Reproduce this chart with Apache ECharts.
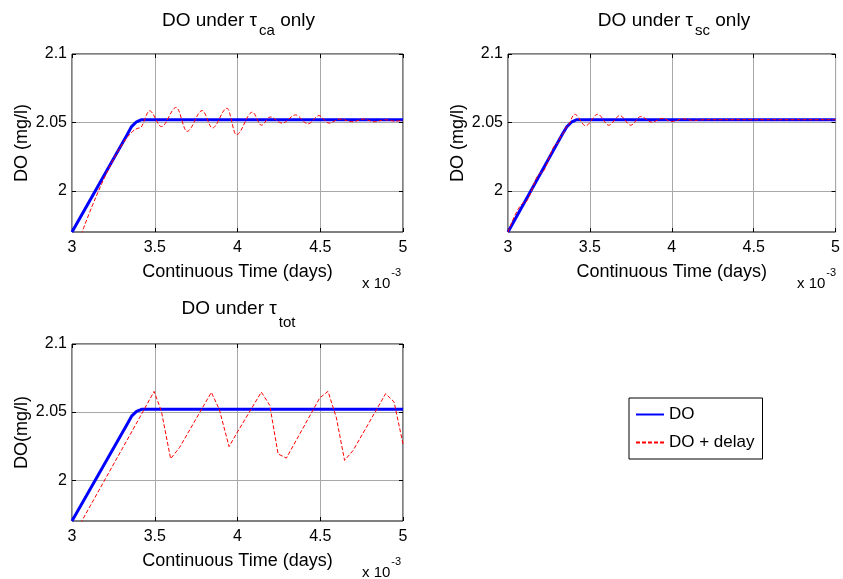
<!DOCTYPE html>
<html>
<head>
<meta charset="utf-8">
<script src="https://cdn.jsdelivr.net/npm/echarts@6/dist/echarts.min.js"></script>
<style>html,body{margin:0;padding:0;background:#fff}#c{width:843px;height:579px}</style>
</head>
<body>
<div id="c"></div>
<script>
// ---- data (time in units of 1e-3 days, DO in mg/l) ----
const xTickValues = [3, 3.5, 4, 4.5, 5];
const yTickValues = [2, 2.05, 2.1];

// DO without delay (panels 1 and 3)
const tDO = [3.0, 3.328, 3.36, 3.39, 3.42, 5.0];
const vDO = [1.970, 2.040, 2.047, 2.0505, 2.052, 2.052];

// DO + delay, tau_ca only
const tCa = [3.055, 3.41, 3.469, 3.54, 3.63, 3.695, 3.787, 3.848, 3.937, 3.993, 4.09, 4.144, 4.198, 4.27, 4.351, 4.426, 4.492, 4.553, 4.617, 4.698, 4.758, 4.829, 4.889, 4.95, 5.0];
const vCa = [1.968, 2.046, 2.0585, 2.047, 2.061, 2.0435, 2.0587, 2.046, 2.0604, 2.041, 2.0575, 2.048, 2.054, 2.0495, 2.0555, 2.049, 2.055, 2.0495, 2.0525, 2.0505, 2.0525, 2.0505, 2.052, 2.051, 2.0515];

// DO without delay (panel 2)
const tDOsc = [3.0, 3.33, 3.36, 3.39, 3.42, 5.0];
const vDOsc = [1.970, 2.041, 2.047, 2.0505, 2.052, 2.052];

// DO + delay, tau_sc only
const tSc = [3.0, 3.1, 3.2, 3.3, 3.33, 3.36, 3.407, 3.474, 3.548, 3.615, 3.683, 3.75, 3.81, 3.88, 3.94, 4.0, 4.07, 4.13, 4.2, 4.5, 5.0];
const vSc = [1.970, 1.9915, 2.013, 2.0345, 2.041, 2.047, 2.056, 2.0476, 2.056, 2.048, 2.055, 2.048, 2.0543, 2.0502, 2.053, 2.0507, 2.0526, 2.0515, 2.052, 2.052, 2.052];

// DO + delay, tau_tot
const tTot = [3.05, 3.409, 3.496, 3.54, 3.596, 3.65, 3.842, 3.89, 3.949, 3.993, 4.144, 4.195, 4.245, 4.295, 4.497, 4.547, 4.597, 4.647, 4.698, 4.895, 4.946, 5.0];
const vTot = [1.968, 2.046, 2.0652, 2.0507, 2.0157, 2.024, 2.0645, 2.052, 2.0246, 2.034, 2.0647, 2.055, 2.0193, 2.0162, 2.0604, 2.0652, 2.046, 2.0145, 2.0217, 2.0635, 2.0575, 2.0266];

const titles = [
  {main: 'DO under τ', sub: 'ca', rest: ' only', ylab: 'DO (mg/l)'},
  {main: 'DO under τ', sub: 'sc', rest: ' only', ylab: 'DO (mg/l)'},
  {main: 'DO under τ', sub: 'tot', rest: '', ylab: 'DO(mg/l)'}
];

function zip(t, v) { return t.map((x, i) => [x, v[i]]); }

// ---- layout ----
const FONT = 'Liberation Sans, Arial, sans-serif';
const grids = [
  {left: 72, top: 54, width: 331, height: 178},
  {left: 508, top: 54, width: 330, height: 178},
  {left: 72, top: 344, width: 331, height: 177}
];

const option = {
  backgroundColor: '#fff',
  animation: false,
  textStyle: {fontFamily: FONT},
  grid: grids.map(g => Object.assign({show: true, borderColor: '#000', borderWidth: 1, backgroundColor: '#fff'}, g)),
  title: titles.map((t, i) => ({
    text: '{a|' + t.main + '}{s|' + t.sub + '}' + (t.rest ? '{a|' + t.rest + '}' : ''),
    left: grids[i].left + grids[i].width / 2 + 1,
    textAlign: 'center',
    top: i === 2 ? 287 : 3,
    padding: 0,
    textStyle: {
      fontWeight: 'normal',
      rich: {
        a: {fontSize: 19, color: '#000', fontFamily: FONT, fontWeight: 'normal'},
        s: {fontSize: 15, color: '#000', fontFamily: FONT, fontWeight: 'normal', padding: [i === 2 ? 28 : 20, 0, 0, 2]}
      }
    }
  })),
  legend: {
    data: ['DO', 'DO + delay'],
    orient: 'vertical',
    left: 629, top: 398,
    padding: [8, 8, 8, 6],
    itemGap: 11,
    itemWidth: 28, itemHeight: 14,
    borderColor: '#000', borderWidth: 1, borderRadius: 0,
    backgroundColor: '#fff',
    itemStyle: {opacity: 0, color: 'rgba(0,0,0,0)', borderColor: 'rgba(0,0,0,0)', borderWidth: 0},
    textStyle: {fontSize: 17, color: '#000', fontFamily: FONT}
  },
  xAxis: [],
  yAxis: [],
  series: [],
  graphic: []
};

grids.forEach((g, i) => {
  const common = {
    type: 'value', gridIndex: i, min: 3, max: 5, interval: 0.5
  };
  option.xAxis.push(Object.assign({}, common, {
    position: 'bottom',
    axisLine: {show: false},
    axisTick: {show: true, inside: true, length: 4, lineStyle: {color: '#000'}},
    axisLabel: {show: true, color: '#000', fontSize: 16, margin: 8, fontFamily: FONT,
      formatter: v => xTickValues.indexOf(v) >= 0 ? String(v) : ''},
    splitLine: {show: true, lineStyle: {color: '#a8a8a8', width: 1}},
    name: 'Continuous Time (days)', nameLocation: 'middle', nameGap: 31,
    nameTextStyle: {fontSize: 18, color: '#000', fontFamily: FONT}
  }));
  option.xAxis.push(Object.assign({}, common, {
    position: 'top',
    axisLine: {show: false},
    axisTick: {show: true, inside: true, length: 4, lineStyle: {color: '#000'}},
    axisLabel: {show: false},
    splitLine: {show: false}
  }));
  const ycommon = {type: 'value', gridIndex: i, min: 1.97, max: 2.1};
  option.yAxis.push(Object.assign({}, ycommon, {
    position: 'left',
    axisLine: {show: false},
    axisTick: {show: true, inside: true, length: 4, lineStyle: {color: '#000'}, customValues: yTickValues},
    axisLabel: {show: true, color: '#000', fontSize: 16, margin: 5, fontFamily: FONT, customValues: yTickValues,
      formatter: v => String(+v.toFixed(2))},
    splitLine: {show: true, lineStyle: {color: '#a8a8a8', width: 1}},
    name: titles[i].ylab, nameLocation: 'middle', nameGap: 41,
    nameTextStyle: {fontSize: 18, color: '#000', fontFamily: FONT}
  }));
  option.yAxis.push(Object.assign({}, ycommon, {
    position: 'right',
    axisLine: {show: false},
    axisTick: {show: true, inside: true, length: 4, lineStyle: {color: '#000'}, customValues: yTickValues},
    axisLabel: {show: false},
    splitLine: {show: false}
  }));
  // x 10^-3 multiplier label
  option.graphic.push({
    type: 'text',
    left: g.left + g.width - 41,
    top: g.top + g.height + 35,
    style: {
      text: '{m|x 10}{e|-3}',
      rich: {
        m: {fontSize: 15, fill: '#000', fontFamily: FONT, padding: [12, 0, 0, 0]},
        e: {fontSize: 11, fill: '#000', fontFamily: FONT, padding: [0, 0, 10, 1]}
      }
    }
  });
});

const blueData = [zip(tDO, vDO), zip(tDOsc, vDOsc), zip(tDO, vDO)];
const redData = [zip(tCa, vCa), zip(tSc, vSc), zip(tTot, vTot)];
const redSmooth = [0.35, 0.35, false];

for (let i = 0; i < 3; i++) {
  option.series.push({
    name: 'DO', type: 'line', xAxisIndex: 2 * i, yAxisIndex: 2 * i,
    data: blueData[i], showSymbol: false, symbol: 'none',
    lineStyle: {color: '#0000ff', width: 3}, itemStyle: {color: '#0000ff'},
    clip: true, z: 2
  });
  option.series.push({
    name: 'DO + delay', type: 'line', xAxisIndex: 2 * i, yAxisIndex: 2 * i,
    data: redData[i], showSymbol: false, symbol: 'none',
    smooth: redSmooth[i], smoothMonotone: 'x',
    lineStyle: {color: '#ff0000', width: 1, type: [4, 2]}, itemStyle: {color: '#ff0000'},
    clip: true, z: 3
  });
}

const chart = echarts.init(document.getElementById('c'), null, {renderer: 'canvas'});
chart.setOption(option);
</script>
</body>
</html>
